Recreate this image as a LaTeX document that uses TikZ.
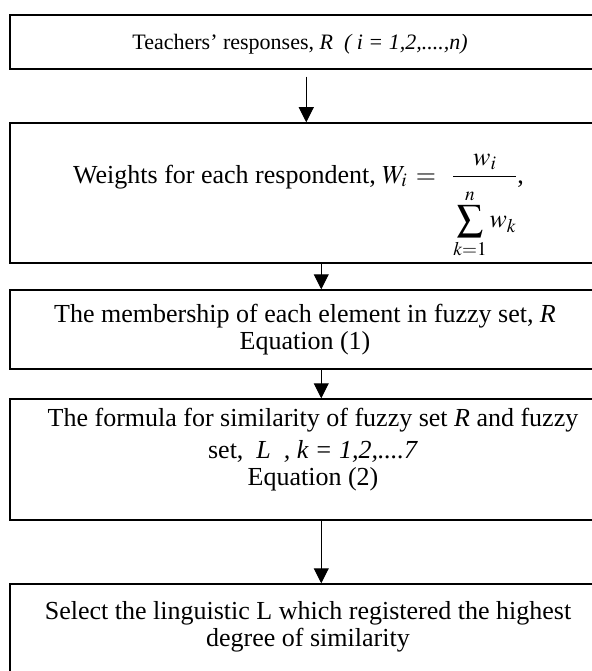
\documentclass[tikz,border=0pt]{standalone}
\usepackage{mathptmx}
\usepackage[no-math]{fontspec}
\setmainfont{Liberation Serif}
\usetikzlibrary{arrows.meta}

\tikzstyle{stage}=[draw,line width=1.5pt,minimum width=620pt,inner sep=0pt]
\tikzstyle{caption}=[inner sep=0pt,align=center,font=\fontsize{26}{27}\selectfont]
\tikzstyle{flow}=[line width=1pt,-{Triangle[length=15pt,width=15pt]}]

\begin{document}
\begin{tikzpicture}[x=1pt,y=-1pt]
  \useasboundingbox (0,0) rectangle (591,671);

  \node (b1)[stage,minimum height=54pt] at (320,42) {};
  \node (b2)[stage,minimum height=140pt] at (320,193) {};
  \node (b3)[stage,minimum height=79pt] at (320,329.5) {};
  \node (b4)[stage,minimum height=121pt] at (320,459.5) {};
  \node (b5)[stage,minimum height=116pt] at (320,642) {};

  \node (t1)[caption,anchor=base,font=\fontsize{22}{26}\selectfont] at (300,50)
    {Teachers’ responses, \textit{R\ \ ( i = 1,2,....,n)}};
  \node (t2)[caption,anchor=base west] at (73,183)
    {Weights for each respondent, $W_i\,=$\hspace{16pt}$\displaystyle\frac{w_i}{\raisebox{-9pt}[\height][\depth]{$\displaystyle\sum_{k=1}^{n}w_k$}}$,};
  \node (t3)[caption] at (305,330)
    {The membership of each element in fuzzy set, \textit{R}\\ Equation (1)};
  \node (t4)[caption] at (313,450)
    {The formula for similarity of fuzzy set \textit{R} and fuzzy\\[5pt]
     set,\ \ \textit{L\ \ , k = 1,2,....7}\\ Equation (2)};
  \node (t5)[caption] at (308,627)
    {Select the linguistic L which registered the highest\\ degree of similarity};

    \draw[flow] ([xshift=297pt,yshift=-7pt]b1.south west) -- ([xshift=297pt]b2.north west);
    \foreach \i/\j in {2/3, 3/4, 4/5}{
        \draw[flow] ([xshift=312pt]b\i.south west) -- ([xshift=312pt]b\j.north west);
    }
\end{tikzpicture}
\end{document}
